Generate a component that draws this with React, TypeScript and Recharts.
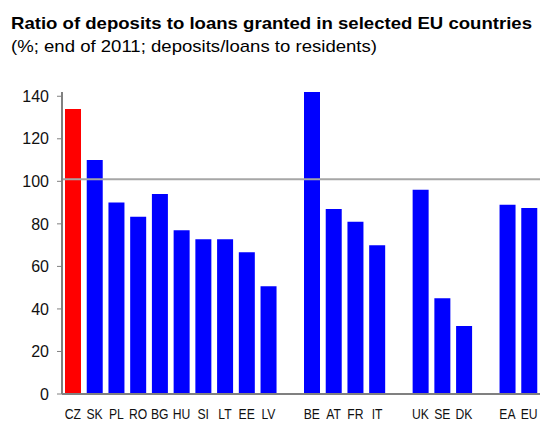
import { Bar, BarChart, Cell, ReferenceLine, XAxis, YAxis } from "recharts";

// categories, empty strings are the gaps between country groups
const countries = ["CZ", "SK", "PL", "RO", "BG", "HU", "SI", "LT", "EE", "LV", "", "BE", "AT", "FR", "IT", "", "UK", "SE", "DK", "", "EA", "EU"];
const ratios = [134, 110, 90, 83.3, 94, 77, 72.8, 72.8, 66.7, 50.7, null, 142, 87, 81, 70, null, 96, 45, 32, null, 89, 87.5];
const yTicks = [0, 20, 40, 60, 80, 100, 120, 140];
const threshold = 101;
const highlight = "CZ";

const data = countries.map((name, i) => ({ name, value: ratios[i] }));

const font = "'Liberation Sans', Arial, sans-serif";

function XTick(props: any) {
	const { x, y, payload } = props;
	return (
		<g transform={`translate(${x},${y})`}>
			<text
				x={0}
				y={0}
				dy={25.5}
				textAnchor="middle"
				transform="scale(0.81,1)"
				fontSize={15}
				fontFamily={font}
				fill="#111"
			>
				{payload.value}
			</text>
		</g>
	);
}

export default function App() {
	return (
		<div style={{ position: "absolute", left: 0, top: 0, width: 540, height: 423, background: "#fff" }}>
			<svg width={540} height={60} style={{ position: "absolute", left: 0, top: 0 }}>
				<text x={11} y={29} fontFamily={font} fontSize={16.5} fontWeight="bold" fill="#000" textLength={521} lengthAdjust="spacingAndGlyphs">
					Ratio of deposits to loans granted in selected EU countries
				</text>
				<text x={11} y={52} fontFamily={font} fontSize={17} fill="#000" textLength={366} lengthAdjust="spacingAndGlyphs">
					(%; end of 2011; deposits/loans to residents)
				</text>
			</svg>
			<div style={{ position: "absolute", left: 0, top: 0 }}>
				<BarChart width={540} height={423} data={data} margin={{ top: 92, right: 0, bottom: 0, left: 0 }}>
					<XAxis
						dataKey="name"
						height={29}
						axisLine={{ stroke: "#808080", strokeWidth: 2 }}
						tickLine={false}
						tickSize={0}
						tickMargin={0}
						interval={0}
						tick={<XTick />}
					/>
					<YAxis
						width={62}
						domain={[0, 142]}
						ticks={yTicks}
						axisLine={{ stroke: "#808080", strokeWidth: 2 }}
						tickLine={{ stroke: "#808080" }}
						tickSize={5}
						tickMargin={8}
						tick={{ fontSize: 16, fontFamily: font, fill: "#111" }}
					/>
					<Bar dataKey="value" barSize={16} isAnimationActive={false}>
						{data.map((d, i) => (
							<Cell key={i} fill={d.name === highlight ? "#FF0000" : "#0000FF"} />
						))}
					</Bar>
					<ReferenceLine y={threshold} stroke="#A6A6A6" strokeWidth={2} />
				</BarChart>
			</div>
		</div>
	);
}
